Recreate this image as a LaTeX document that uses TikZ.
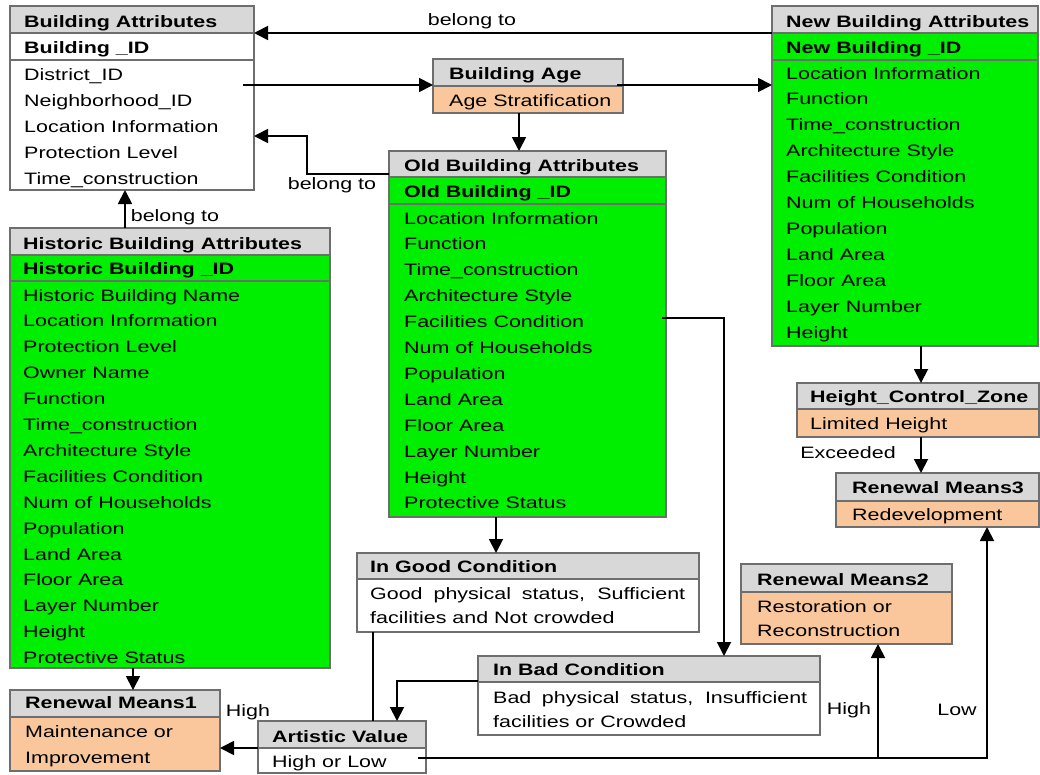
\documentclass[tikz,border=0pt]{standalone}
\usepackage{fontspec}
\setmainfont{Liberation Sans}[FakeStretch=1.3]
\usetikzlibrary{arrows.meta}
\definecolor{hgray}{HTML}{D8D8D8}
\definecolor{bgreen}{HTML}{00EE00}
\definecolor{peach}{HTML}{F9C79B}
\definecolor{bordc}{HTML}{6E6E6E}
\newcommand\dfs{\fontsize{16.5}{19}\selectfont}
\tikzset{
 frame/.style={draw=bordc, line width=1.3pt, anchor=north west, inner sep=0pt, outer sep=0pt},
 hd/.style={frame, fill=hgray},
 gr/.style={frame, fill=bgreen},
 wh/.style={frame, fill=white},
 pe/.style={frame, fill=peach},
 tx/.style={anchor=base west, inner sep=0pt, font=\dfs},
 bt/.style={anchor=base west, inner sep=0pt, font=\bfseries\dfs},
 lb/.style={anchor=center, inner sep=0pt, font=\dfs},
 conn/.style={draw=black, line width=1.8pt, line join=miter, -{Triangle[length=14pt,width=14pt]}},
 ln/.style={draw=black, line width=1.8pt},
}
\begin{document}
\begin{tikzpicture}[x=1pt,y=-1pt]
\useasboundingbox (0,0) rectangle (1040,774);
% Building Attributes
\node[hd, minimum width=244pt, minimum height=27pt] (BAh) at (10,6) {};
\node[wh, minimum width=244pt, minimum height=27pt] (BAi) at (10,33) {};
\node[wh, minimum width=244pt, minimum height=130pt] (BAb) at (10,60) {};
\node[bt] (BAt) at (24,27) {Building Attributes};
\node[bt] (BAid) at (24,53) {Building \_ID};
\node[tx] (BA1) at (24,80) {District\_ID};
\node[tx] (BA2) at (24,106) {Neighborhood\_ID};
\node[tx] (BA3) at (24,132) {Location Information};
\node[tx] (BA4) at (24,158) {Protection Level};
\node[tx] (BA5) at (24,184) {Time\_construction};
% Historic Building Attributes
\node[hd, minimum width=320pt, minimum height=27pt] (HBh) at (10,228) {};
\node[gr, minimum width=320pt, minimum height=26pt] (HBi) at (10,255) {};
\node[gr, minimum width=320pt, minimum height=387pt] (HBb) at (10,281) {};
\node[bt] (HBt) at (23,249) {Historic Building Attributes};
\node[bt] (HBid) at (23,274) {Historic Building \_ID};
\foreach \t [count=\k from 0] in {Historic Building Name, Location Information, Protection Level, Owner Name, Function, Time\_construction, Architecture Style, Facilities Condition, Num of Households, Population, Land Area, Floor Area, Layer Number, Height, Protective Status}
  \node[tx] (HB\k) at (23,{301+25.9*\k}) {\t};
% Old Building Attributes
\node[hd, minimum width=277pt, minimum height=26pt] (OBh) at (389,151) {};
\node[gr, minimum width=277pt, minimum height=27pt] (OBi) at (389,177) {};
\node[gr, minimum width=277pt, minimum height=313pt] (OBb) at (389,204) {};
\node[bt] (OBt) at (404,171) {Old Building Attributes};
\node[bt] (OBid) at (404,197) {Old Building \_ID};
\foreach \t [count=\k from 0] in {Location Information, Function, Time\_construction, Architecture Style, Facilities Condition, Num of Households, Population, Land Area, Floor Area, Layer Number, Height, Protective Status}
  \node[tx] (OB\k) at (404,{224+25.9*\k}) {\t};
% New Building Attributes
\node[hd, minimum width=266pt, minimum height=27pt] (NBh) at (772,6) {};
\node[gr, minimum width=266pt, minimum height=27pt] (NBi) at (772,33) {};
\node[gr, minimum width=266pt, minimum height=286pt] (NBb) at (772,60) {};
\node[bt] (NBt) at (786,27) {New Building Attributes};
\node[bt] (NBid) at (786,53) {New Building \_ID};
\foreach \t [count=\k from 0] in {Location Information, Function, Time\_construction, Architecture Style, Facilities Condition, Num of Households, Population, Land Area, Floor Area, Layer Number, Height}
  \node[tx] (NB\k) at (786,{79+25.9*\k}) {\t};
% Building Age
\node[hd, minimum width=190pt, minimum height=27pt] (AGh) at (433,59) {};
\node[pe, minimum width=190pt, minimum height=27pt] (AGb) at (433,86) {};
\node[bt] (AGt) at (449,79) {Building Age};
\node[tx] (AG1) at (449,106) {Age Stratification};
% Height control zone
\node[hd, minimum width=242pt, minimum height=26pt] (HCh) at (797,383) {};
\node[pe, minimum width=242pt, minimum height=28pt] (HCb) at (797,409) {};
\node[bt] (HCt) at (810,402) {Height\_Control\_Zone};
\node[tx] (HC1) at (810,429) {Limited Height};
% Renewal Means3
\node[hd, minimum width=203pt, minimum height=28pt] (R3h) at (836,473) {};
\node[pe, minimum width=203pt, minimum height=26pt] (R3b) at (836,501) {};
\node[bt] (R3t) at (852,493) {Renewal Means3};
\node[tx] (R31) at (852,520) {Redevelopment};
% Renewal Means2
\node[hd, minimum width=211pt, minimum height=28pt] (R2h) at (741,564) {};
\node[pe, minimum width=211pt, minimum height=52pt] (R2b) at (741,592) {};
\node[bt] (R2t) at (757,585) {Renewal Means2};
\node[tx] (R21) at (757,612) {Restoration or};
\node[tx] (R22) at (757,636) {Reconstruction};
% In Bad Condition
\node[hd, minimum width=342pt, minimum height=26pt] (IBh) at (478,656) {};
\node[wh, minimum width=342pt, minimum height=53pt] (IBb) at (478,682) {};
\node[bt] (IBt) at (493,675) {In Bad Condition};
\node[tx] (IB1) at (493,703) {\makebox[314pt][s]{Bad physical status, Insufficient}};
\node[tx] (IB2) at (493,727) {facilities or Crowded};
% In Good Condition
\node[hd, minimum width=342pt, minimum height=26pt] (IGh) at (357,553) {};
\node[wh, minimum width=342pt, minimum height=53pt] (IGb) at (357,579) {};
\node[bt] (IGt) at (370,572) {In Good Condition};
\node[tx] (IG1) at (370,599) {\makebox[315pt][s]{Good physical status, Sufficient}};
\node[tx] (IG2) at (370,623) {facilities and Not crowded};
% Renewal Means1
\node[hd, minimum width=210pt, minimum height=27pt] (R1h) at (10,690) {};
\node[pe, minimum width=210pt, minimum height=54pt] (R1b) at (10,717) {};
\node[bt] (R1t) at (25,708) {Renewal Means1};
\node[tx] (R11) at (25,737) {Maintenance or};
\node[tx] (R12) at (25,763) {Improvement};
% Artistic Value
\node[hd, minimum width=168pt, minimum height=27pt] (AVh) at (258,721) {};
\node[wh, minimum width=168pt, minimum height=25pt] (AVb) at (258,748) {};
\node[bt] (AVt) at (272,742) {Artistic Value};
\node[tx] (AV1) at (272,767) {High or Low};
% Connectors
\draw[conn] (NBh.south west) -- (BAh.south east);
\node[lb] (L1) at (472,21) {belong to};
\coordinate (dS) at (243,85);
\draw[conn] (dS) -- (dS -| AGh.west);
\coordinate (aS) at (617,85);
\draw[conn] (aS) -- (aS -| NBb.west);
\coordinate (aD) at (519,113);
\draw[conn] (aD) -- (aD |- OBh.north);
\coordinate (k5) at (307,136);
\draw[conn] ([yshift=3pt]OBh.south west) -| (k5) -- (k5 -| BAb.east);
\node[lb] (L2) at (332,185) {belong to};
\coordinate (h6) at (125,228);
\draw[conn] (h6) -- (h6 |- BAb.south);
\node[lb] (L3) at (175,217) {belong to};
\coordinate (o7) at (496,517);
\draw[conn] (o7) -- (o7 |- IGh.north);
\coordinate (f8) at (662,318);
\coordinate (f8b) at (724,318);
\draw[conn] (f8) -- (f8b) -- (f8b |- IBh.north);
\coordinate (n9) at (921,346);
\draw[conn] (n9) -- (n9 |- HCh.north);
\coordinate (h10) at (921,437);
\draw[conn] (h10) -- (h10 |- R3h.north);
\node[lb] (L4) at (848,453) {Exceeded};
\coordinate (h11) at (133,668);
\draw[conn] (h11) -- (h11 |- R1h.north);
\coordinate (g12) at (373,632);
\draw[ln] (g12) -- (g12 |- AVh.north);
\draw[conn] ([yshift=1pt]IBh.south west) -| ([xshift=139pt]AVh.north west);
\draw[conn] (AVh.south west) -- (AVh.south west -| R1b.east);
\node[lb] (L5) at (248,712) {High};
\coordinate (v15) at (418,758);
\coordinate (e15) at (987,758);
\coordinate (j15) at (878,758);
\draw[conn] (v15) -- (e15) -- (e15 |- R3b.south);
\draw[conn] (j15) -- (j15 |- R2b.south);
\node[lb] (L6) at (849,710) {High};
\node[lb] (L7) at (957,710) {Low};
\end{tikzpicture}
\end{document}
